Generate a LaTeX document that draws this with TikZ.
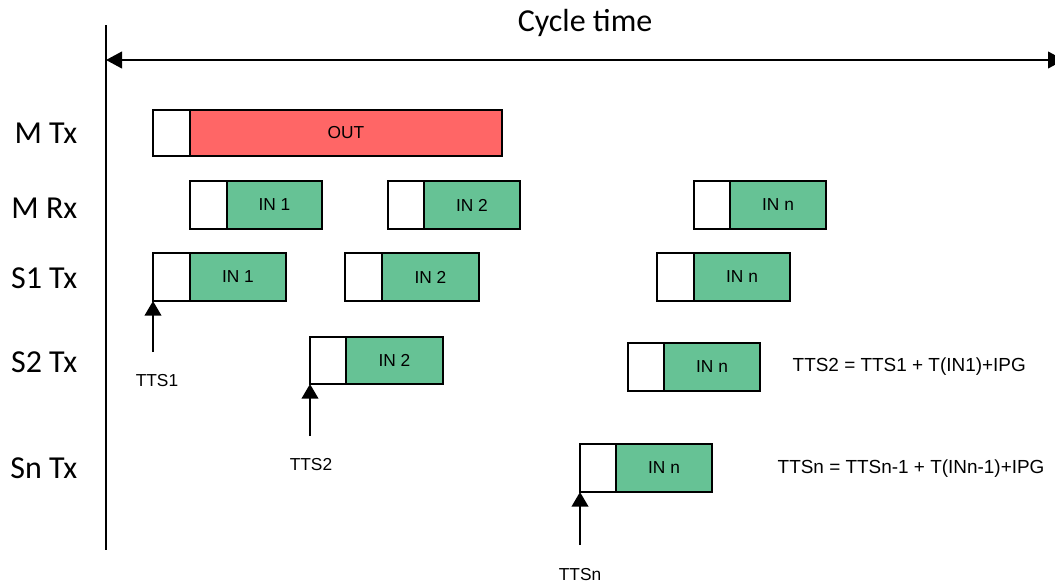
\documentclass[tikz,border=0pt]{standalone}
\usepackage{fontspec}
\setmainfont{Liberation Sans}
\newfontfamily\calibfont{Carlito}
\usetikzlibrary{arrows.meta,fit}
\definecolor{boxgreen}{RGB}{102,194,149}
\definecolor{boxred}{RGB}{255,102,102}
\tikzset{
  blk/.style={draw=black, line width=1.5pt, inner sep=0pt, outer sep=0pt},
  wbox/.style={blk, fill=white},
  gbox/.style={blk, fill=boxgreen},
  rbox/.style={blk, fill=boxred},
  boxlab/.style={font=\fontsize{13}{15}\selectfont},
  rowlab/.style={anchor=east, font=\calibfont\fontsize{24}{28}\selectfont},
  small/.style={font=\fontsize{13}{15}\selectfont},
  formula/.style={anchor=west, font=\fontsize{14.2}{16}\selectfont},
  tip/.style={-{Triangle[length=11pt,width=12.5pt]}, line width=1.5pt},
  dtip/.style={{Triangle[length=12pt,width=12.5pt]}-{Triangle[length=12pt,width=12.5pt]}, line width=1.5pt}
}
\begin{document}
\begin{tikzpicture}[x=0.75pt,y=-0.75pt]
\useasboundingbox (0,0) rectangle (1055,586);
% axis
\coordinate (axtop) at (106,25);
\coordinate (axbot) at (106,550);
\draw[line width=1.5pt] (axtop) -- (axbot);
\coordinate (ctl) at (106,60);
\coordinate (ctr) at (1064,60);
\draw[dtip] (ctl) -- (ctr);
\node[font=\calibfont\fontsize{24}{28}\selectfont] (ct) at (585,23) {Cycle time};
% row labels
\node[rowlab] (lmtx) at (82,133) {M Tx};
\node[rowlab] (lmrx) at (82,208) {M Rx};
\node[rowlab] (ls1) at (82,278) {S1 Tx};
\node[rowlab] (ls2) at (82,362) {S2 Tx};
\node[rowlab] (lsn) at (82,468) {Sn Tx};
% M Tx
\node[wbox, fit={(153,110)(190,156)}] (mtw) {};
\node[rbox, fit={(190,110)(502,156)}, label={[boxlab]center:OUT}] (mtr) {};
% M Rx
\node[wbox, fit={(190,181)(227,229)}] (mr1w) {};
\node[gbox, fit={(227,181)(322,229)}, label={[boxlab]center:IN 1}] (mr1) {};
\node[wbox, fit={(388,181)(424,229)}] (mr2w) {};
\node[gbox, fit={(424,181)(520,229)}, label={[boxlab]center:IN 2}] (mr2) {};
\node[wbox, fit={(694,181)(730,229)}] (mrnw) {};
\node[gbox, fit={(730,181)(826,229)}, label={[boxlab]center:IN n}] (mrn) {};
% S1 Tx
\node[wbox, fit={(153,253)(190,301)}] (s11w) {};
\node[gbox, fit={(190,253)(286,301)}, label={[boxlab]center:IN 1}] (s11) {};
\node[wbox, fit={(345,253)(382,301)}] (s12w) {};
\node[gbox, fit={(382,253)(479,301)}, label={[boxlab]center:IN 2}] (s12) {};
\node[wbox, fit={(657,253)(694,301)}] (s1nw) {};
\node[gbox, fit={(694,253)(790,301)}, label={[boxlab]center:IN n}] (s1n) {};
% S2 Tx
\node[wbox, fit={(310,337)(346,384)}] (s22w) {};
\node[gbox, fit={(346,337)(443,384)}, label={[boxlab]center:IN 2}] (s22) {};
\node[wbox, fit={(628,343)(664,391)}] (s2nw) {};
\node[gbox, fit={(664,343)(760,391)}, label={[boxlab]center:IN n}] (s2n) {};
% Sn Tx
\node[wbox, fit={(580,444)(616,492)}] (snnw) {};
\node[gbox, fit={(616,444)(712,492)}, label={[boxlab]center:IN n}] (snn) {};
% TTS arrows
\coordinate (t1) at (153,352);
\draw[tip] (t1) -- (s11w.south west);
\node[small] (tts1) at (157,381) {TTS1};
\coordinate (t2) at (310,436);
\draw[tip] (t2) -- (s22w.south west);
\node[small] (tts2) at (311,465) {TTS2};
\coordinate (tn) at (580,545);
\draw[tip] (tn) -- (snnw.south west);
\node[small] (ttsn) at (580,575) {TTSn};
% formulas
\node[formula] (f1) at (788,367) {TTS2 = TTS1 + T(IN1)+IPG};
\node[formula] (f2) at (773,469) {TTSn = TTSn-1 + T(INn-1)+IPG};
\end{tikzpicture}
\end{document}
